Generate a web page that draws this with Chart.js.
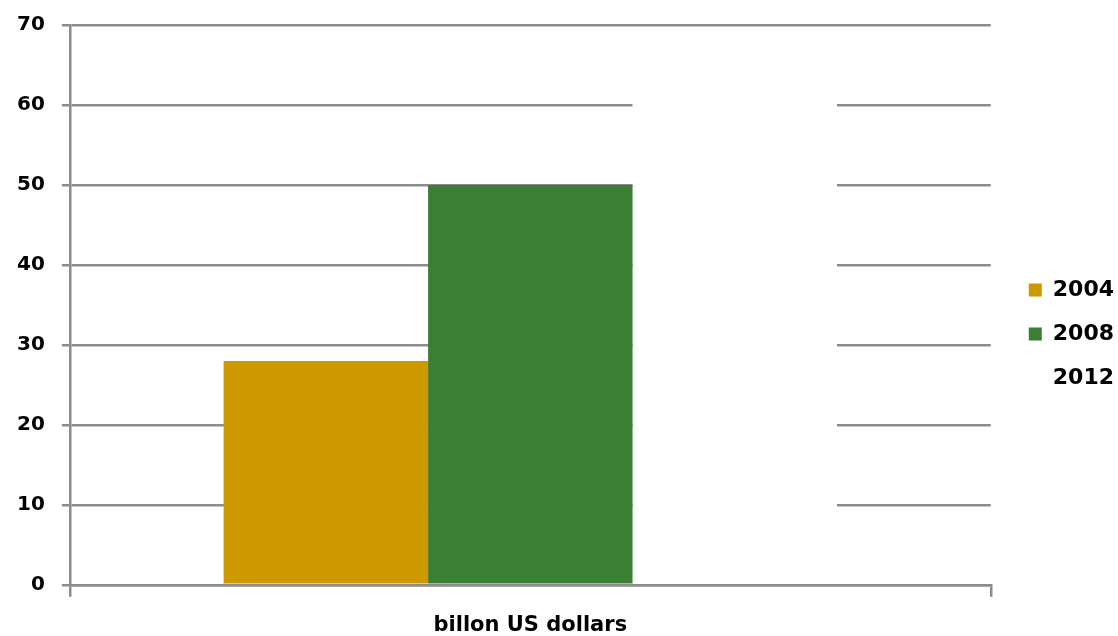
<!DOCTYPE html>
<html>
<head>
<meta charset="utf-8">
<script src="https://cdn.jsdelivr.net/npm/chart.js@4/dist/chart.umd.min.js"></script>
<style>
  html, body { margin: 0; padding: 0; background: #fff; }
  #wrap { width: 1118px; height: 636px; }
</style>
</head>
<body>
<div id="wrap"><canvas id="chart" width="1118" height="636"></canvas></div>
<script>
// chart data
const categories = ['billon US dollars'];
const years = ['2004', '2008', '2012'];
const values2004 = [28];
const values2008 = [50];
const values2012 = [65];
const yTicks = [0, 10, 20, 30, 40, 50, 60, 70];

const gridColor = '#8c8c8c';
const family = 'DejaVu Sans, Arial, sans-serif';

const ctx = document.getElementById('chart');
new Chart(ctx, {
  type: 'bar',
  data: {
    labels: categories,
    datasets: [
      { label: years[0], data: values2004, backgroundColor: '#cc9900' },
      { label: years[1], data: values2008, backgroundColor: '#3a7f33' },
      { label: years[2], data: values2012, backgroundColor: '#ffffff' }
    ]
  },
  options: {
    responsive: false,
    animation: false,
    layout: { padding: { left: 0, top: 25, right: -6, bottom: -18 } },
    datasets: {
      bar: { categoryPercentage: 0.666, barPercentage: 1 }
    },
    plugins: {
      legend: {
        position: 'right',
        fullSize: false,
        // blank title only pushes the entries down
        title: { display: true, text: ' ', font: { size: 10 }, padding: { top: 0, bottom: 46 } },
        labels: {
          boxWidth: 13,
          boxHeight: 13,
          padding: 22,
          color: '#000',
          font: { family: family, size: 22, weight: 'bold' }
        }
      },
      tooltip: { enabled: false }
    },
    scales: {
      x: {
        grid: {
          offset: true,
          drawOnChartArea: false,
          color: gridColor,
          lineWidth: 2.5,
          tickLength: 12
        },
        border: { color: gridColor, width: 2.5 },
        ticks: { color: '#000', font: { family: family, size: 21, weight: 'bold' }, padding: 16 }
      },
      y: {
        min: 0,
        max: 70,
        afterBuildTicks: axis => { axis.ticks = yTicks.map(v => ({ value: v })); },
        grid: { color: gridColor, lineWidth: 2.5, tickLength: 8 },
        border: { color: gridColor, width: 2.5 },
        ticks: { color: '#000', font: { family: family, size: 20, weight: 'bold', lineHeight: 0.6 }, padding: 17 }
      },
      // empty spacer between plot and legend
      spacer: {
        type: 'linear',
        position: 'right',
        grid: { display: false },
        border: { display: false },
        ticks: { display: false },
        afterFit: axis => { axis.width = 16; }
      }
    }
  }
});
</script>
</body>
</html>
